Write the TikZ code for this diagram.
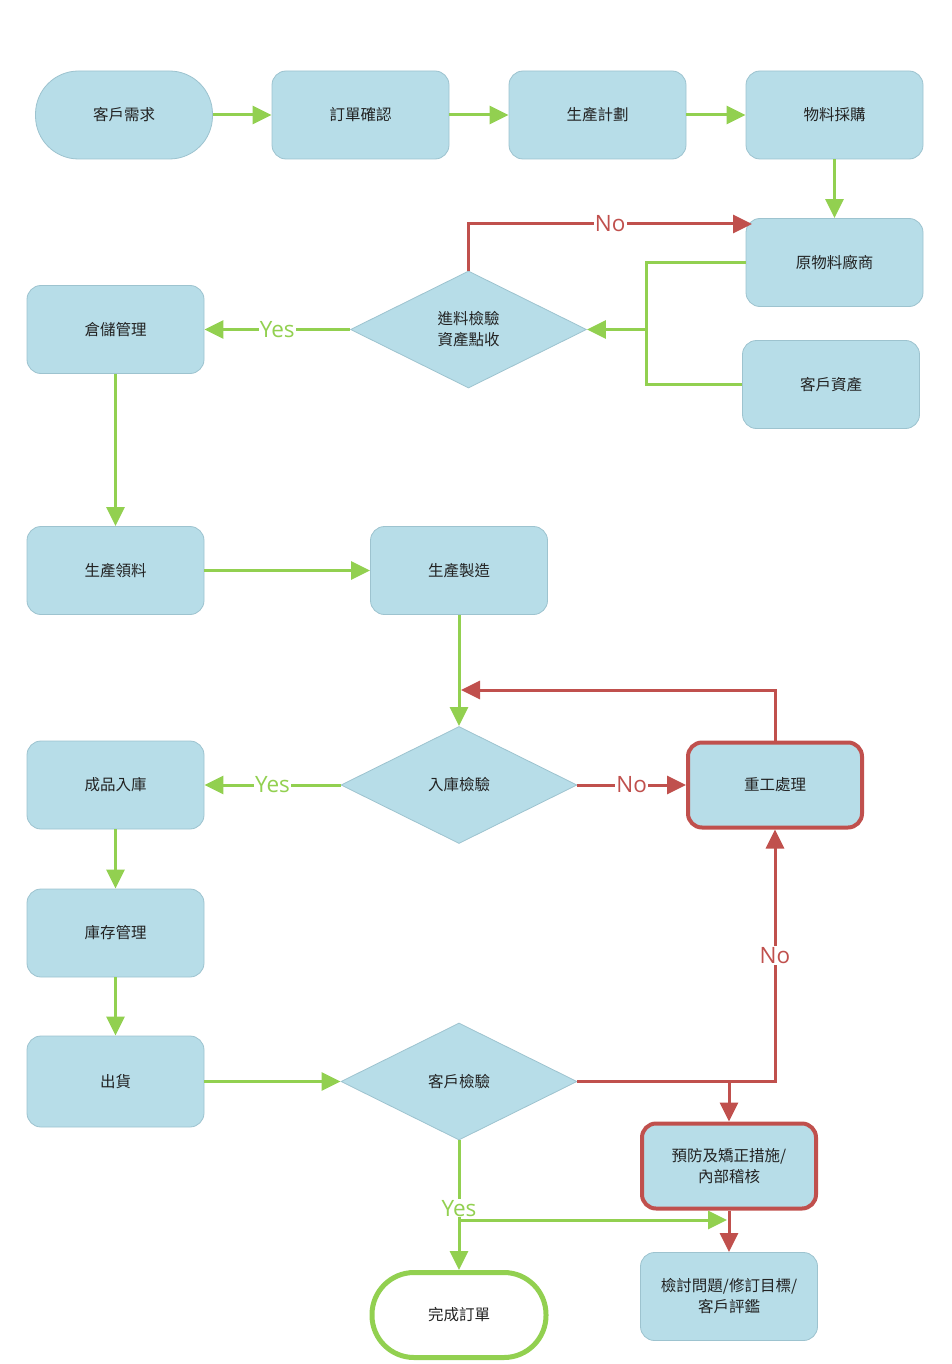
\documentclass[tikz,border=0pt]{standalone}
\usepackage{fontspec}
\setmainfont{Noto Sans CJK TC}
\newfontfamily\lblfont{Open Sans}
\usetikzlibrary{shapes.geometric,arrows.meta}
\definecolor{boxblue}{HTML}{B7DDE8}
\definecolor{boxedge}{HTML}{9DC3CF}
\definecolor{gline}{HTML}{92D050}
\definecolor{rline}{HTML}{C0504D}
\definecolor{txt}{HTML}{222222}
\tikzset{
  box/.style={draw=boxedge, line width=0.8pt, fill=boxblue, rounded corners=14pt,
    minimum width=177pt, minimum height=88pt, inner sep=0pt,
    font=\fontsize{15.5}{21}\selectfont, text=txt, align=center},
  term/.style={box, rounded corners=43pt},
  redbox/.style={box, draw=rline, line width=4pt, minimum width=174pt, minimum height=85pt},
  donebox/.style={box, fill=white, draw=gline, line width=5pt, rounded corners=42pt,
    minimum width=174pt, minimum height=85pt},
  dia/.style={diamond, draw=boxedge, line width=0.8pt, fill=boxblue, inner sep=0pt,
    minimum width=236pt, minimum height=117pt,
    font=\fontsize{15.5}{21}\selectfont, text=txt, align=center},
  gplain/.style={draw=gline, line width=3pt},
  rplain/.style={draw=rline, line width=3pt},
  g/.style={gplain, -{Triangle[length=19pt,width=18pt]}},
  r/.style={rplain, -{Triangle[length=19pt,width=18pt]}},
  glbl/.style={fill=white, inner sep=1pt, text=gline, font=\lblfont\fontsize{22.5}{26}\selectfont},
  rlbl/.style={fill=white, inner sep=1pt, text=rline, font=\lblfont\fontsize{22.5}{26}\selectfont},
}
\begin{document}
\begin{tikzpicture}[x=1pt,y=-1pt]
\useasboundingbox (0,0) rectangle (952,1364);
% nodes
\node[term] (c1) at (124,115) {客戶需求};
\node[box] (c2) at (360.5,115) {訂單確認};
\node[box] (c3) at (597.5,115) {生產計劃};
\node[box] (c4) at (834.5,115) {物料採購};
\node[box] (vendor) at (834.5,262.5) {原物料廠商};
\node[box] (asset) at (831,384.5) {客戶資產};
\node[dia] (d1) at (468.5,329.5) {進料檢驗\\資產點收};
\node[box] (store) at (115.5,329.5) {倉儲管理};
\node[box] (pick) at (115.5,570.5) {生產領料};
\node[box] (make) at (459,570.5) {生產製造};
\node[dia] (d2) at (459,785) {入庫檢驗};
\node[redbox] (rework) at (775,785) {重工處理};
\node[box] (fin) at (115.5,785) {成品入庫};
\node[box] (stock) at (115.5,933) {庫存管理};
\node[box, minimum height=91pt] (ship) at (115.5,1081.5) {出貨};
\node[dia] (d3) at (459,1081.5) {客戶檢驗};
\node[redbox] (prev) at (729,1166) {預防及矯正措施/\\內部稽核};
\node[box] (review) at (729,1296.5) {檢討問題/修訂目標/\\客戶評鑑};
\node[donebox] (done) at (459,1315) {完成訂單};
% top row
\draw[g] (c1) -- (c2);
\draw[g] (c2) -- (c3);
\draw[g] (c3) -- (c4);
\draw[g] (c4) -- (vendor);
% incoming inspection
\draw[r] (d1.north) |- node[pos=0.75, rlbl] {No} (752,224);
\draw[g] (vendor.west) -| (646,329.5) -- (d1.east);
\draw[gplain] (asset.west) -| (646,329.5);
\draw[g] (d1.west) -- node[glbl] {Yes} (store.east);
\draw[g] (store) -- (pick);
\draw[g] (pick) -- (make);
\draw[g] (make) -- (d2.north);
% warehouse inspection
\draw[r] (rework.north) |- (461,690);
\draw[g] (d2.west) -- node[glbl] {Yes} (fin.east);
\draw[r] (d2.east) -- node[rlbl] {No} (rework.west);
\draw[g] (fin) -- (stock);
\draw[g] (stock) -- (ship);
\draw[g] (ship.east) -- (d3.west);
% customer inspection
\draw[r] (d3.east) -| node[pos=0.75, rlbl] {No} (rework.south);
\draw[r] (prev.north |- d3.east) -- (prev.north);
\draw[r] (prev) -- (review);
\coordinate (split) at (459,1220);
\draw[gplain] (d3.south) -- (split);
\draw[g] (split) -- (done.north);
\draw[g] (split) -- (727,1220);
\node[glbl, anchor=base] (yes3) at (459,1216) {Yes};
\end{tikzpicture}
\end{document}
